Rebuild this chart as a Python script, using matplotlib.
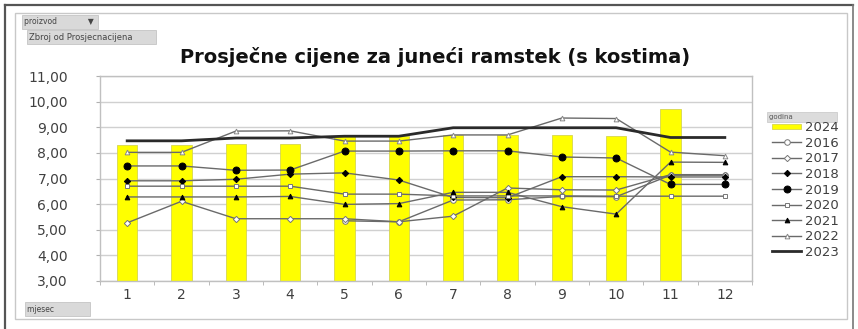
import numpy as np
import matplotlib
matplotlib.use("Agg")
import matplotlib.pyplot as plt
from matplotlib.patches import Rectangle
from matplotlib.lines import Line2D
from matplotlib.legend_handler import HandlerPatch

plt.rcParams['font.family'] = ['DejaVu Sans']

# ---- data -------------------------------------------------------------
months = list(range(1, 13))
month_labels = [str(m) for m in months]
nan = np.nan

y2024 = [8.30, 8.30, 8.34, 8.35, 8.65, 8.65, 8.68, 8.68, 8.68, 8.65, 9.70, nan]
y2016 = [nan, nan, nan, nan, 5.35, 5.31, 6.16, 6.17, 6.30, 6.29, 7.13, 7.13]
y2017 = [5.27, 6.11, 5.43, 5.43, 5.43, 5.31, 5.53, 6.63, 6.56, 6.55, 7.15, 7.15]
y2018 = [6.91, 6.91, 6.97, 7.17, 7.22, 6.94, 6.26, 6.25, 7.07, 7.07, 7.06, 7.06]
y2019 = [7.49, 7.49, 7.32, 7.33, 8.07, 8.07, 8.08, 8.08, 7.84, 7.80, 6.77, 6.77]
y2020 = [6.70, 6.70, 6.70, 6.70, 6.39, 6.39, 6.32, 6.32, 6.32, 6.31, 6.31, 6.31]
y2021 = [6.28, 6.28, 6.28, 6.30, 5.99, 6.02, 6.46, 6.46, 5.90, 5.61, 7.64, 7.63]
y2022 = [8.02, 8.02, 8.85, 8.86, 8.46, 8.46, 8.70, 8.70, 9.36, 9.34, 8.03, 7.89]
y2023 = [8.47, 8.47, 8.58, 8.58, 8.65, 8.65, 8.98, 8.98, 8.98, 8.98, 8.60, 8.60]

yticks = [3, 4, 5, 6, 7, 8, 9, 10, 11]
ytick_labels = ["3,00", "4,00", "5,00", "6,00", "7,00", "8,00", "9,00", "10,00", "11,00"]

title = "Prosječne cijene za juneći ramstek (s kostima)"

# ---- figure -----------------------------------------------------------
W, H = 858, 329
fig = plt.figure(figsize=(W / 100, H / 100), dpi=100)
fig.patch.set_facecolor("white")


def fx(px):
    return px / W


def fy(py):
    return 1 - py / H


# outer frame and inner chart-area border
fig.add_artist(Line2D([fx(5), fx(5)], [fy(5), 0], color="#555555", lw=1.6))
fig.add_artist(Line2D([fx(5), fx(853)], [fy(5), fy(5)], color="#555555", lw=1.6))
fig.add_artist(Line2D([fx(853), fx(853)], [fy(5), 0], color="#777777", lw=1.2))
fig.add_artist(Rectangle((fx(15), fy(319)), fx(847) - fx(15), fy(13) - fy(319),
                         transform=fig.transFigure, fill=False,
                         edgecolor="#c8c8c8", lw=1.0))

ax = fig.add_axes([fx(100), fy(281), fx(752) - fx(100), fy(76) - fy(281)])

bars = ax.bar(months, y2024, width=0.37, color="#ffff00", edgecolor="#d6d650",
              linewidth=0.6, zorder=2, label="2024")

line_col = "#6a6a6a"
series = [
    ("2016", y2016, dict(marker="o", ms=4.0, mfc="white", mec="#777777")),
    ("2017", y2017, dict(marker="D", ms=3.2, mfc="white", mec="#777777")),
    ("2018", y2018, dict(marker="D", ms=3.2, mfc="black", mec="black")),
    ("2019", y2019, dict(marker="o", ms=5.0, mfc="black", mec="black")),
    ("2020", y2020, dict(marker="s", ms=3.4, mfc="white", mec="#777777")),
    ("2021", y2021, dict(marker="^", ms=3.4, mfc="black", mec="black")),
    ("2022", y2022, dict(marker="^", ms=3.4, mfc="white", mec="#888888")),
]
handles = [bars.patches[0]]
labels = ["2024"]
for name, vals, st in series:
    ln, = ax.plot(months, vals, color=line_col, lw=1.0, mew=0.7, zorder=3,
                  label=name, **st)
    handles.append(ln)
    labels.append(name)
ln23, = ax.plot(months, y2023, color="#2a2a2a", lw=2.0, zorder=3, label="2023")
handles.append(ln23)
labels.append("2023")

ax.set_xlim(0.5, 12.5)
ax.set_ylim(3, 11)
ax.set_yticks(yticks)
ax.set_yticklabels(ytick_labels)
ax.set_xticks(months)
ax.set_xticklabels(month_labels)
ax.set_xticks(np.arange(0.5, 13, 1), minor=True)
ax.grid(axis="y", color="#d0d0d0", lw=1.0, zorder=0)
ax.set_axisbelow(True)
for s in ax.spines.values():
    s.set_color("#c0c0c0")
    s.set_linewidth(1.0)
ax.tick_params(axis="y", length=3, color="#b0b0b0", pad=20,
               labelsize=10, labelcolor="#404040")
ax.tick_params(axis="x", which="major", length=0, pad=5,
               labelsize=10, labelcolor="#404040")
ax.tick_params(axis="x", which="minor", length=3, color="#b0b0b0")

fig.text(fx(435), fy(57), title, ha="center", va="center",
         fontsize=14, fontweight="bold", color="#111111")

# field buttons
btn = dict(boxstyle="square,pad=0.3", facecolor="#d9d9d9", edgecolor="#c4c4c4", lw=0.6)
fig.text(fx(24), fy(22), "proizvod             \u25bc ", fontsize=5.5, color="#444444",
         va="center", ha="left", bbox=btn)
fig.text(fx(29), fy(37), "Zbroj od Prosjecnacijena        ", fontsize=6, color="#444444",
         va="center", ha="left", bbox=btn)
fig.text(fx(27), fy(309), "mjesec              ", fontsize=5.5, color="#444444",
         va="center", ha="left", bbox=btn)
fig.text(fx(769), fy(117), "godina                   ", fontsize=5,
         color="#555555", va="center", ha="left",
         bbox=dict(boxstyle="square,pad=0.25", facecolor="#dcdcdc",
                   edgecolor="#cccccc", lw=0.6))


def thin_patch(legend, orig_handle, xdescent, ydescent, width, height, fontsize):
    return Rectangle((-xdescent, -ydescent + height * 0.2), width, height * 0.6)


fig.legend(handles, labels, loc="upper left",
           bbox_to_anchor=(fx(772), fy(121)), frameon=False,
           fontsize=9.5, labelspacing=0.2, handlelength=2.2,
           handletextpad=0.3, borderaxespad=0, borderpad=0,
           labelcolor="#404040",
           handler_map={Rectangle: HandlerPatch(patch_func=thin_patch)})

fig.savefig("out.png", dpi=100, facecolor="white")
